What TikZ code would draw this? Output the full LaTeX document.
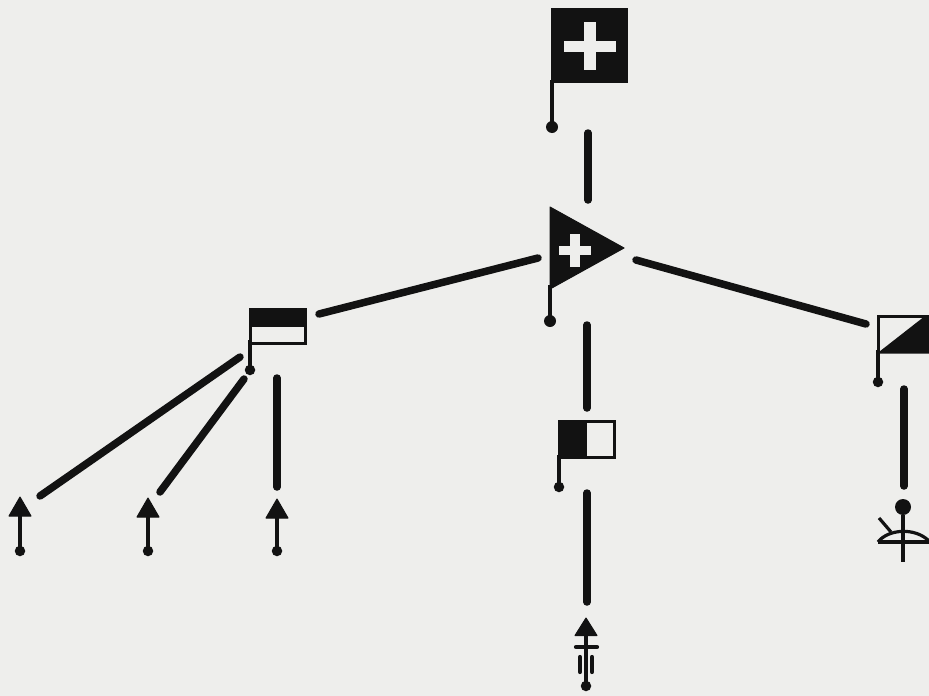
\documentclass[tikz,border=0pt]{standalone}
\definecolor{paper}{HTML}{EEEEEC}
\definecolor{ink}{HTML}{121212}
\tikzset{
  link/.style={draw=ink,line width=7.5pt,line cap=round},
  pole/.style={draw=ink,line width=3.2pt},
  dotmark/.style={circle,fill=ink,inner sep=0pt,minimum size=10.5pt},
  flagbody/.style={rectangle,draw=ink,line width=3pt,fill=paper,inner sep=0pt},
  crossbar/.style={rectangle,fill=paper,inner sep=0pt},
  tip/.style={fill=ink,draw=ink,line width=1pt,line join=round},
  stem/.style={draw=ink,line width=3.2pt},
  tick/.style={draw=ink,line width=4.2pt,line cap=round}
}
\begin{document}
\begin{tikzpicture}[x=1pt,y=-1pt]
\useasboundingbox (0,0) rectangle (929,696);
\fill[paper] (0,0) rectangle (929,696);

% top flag
\node[flagbody,fill=ink,minimum width=74pt,minimum height=72pt] (topflag) at (589,45) {};
\draw[pole] (552,80) -- (552,127);
\node[dotmark,minimum size=12pt] (topdot) at (552,127) {};
\node[crossbar,minimum width=52pt,minimum height=11pt] (tc1) at (590,46) {};
\node[crossbar,minimum width=12pt,minimum height=48pt] (tc2) at (590,46) {};

% triangular pennant
\fill[tip] (550,207) -- (624,248) -- (550,289) -- cycle;
\coordinate (penn) at (575,248);
\draw[pole] (550,285) -- (550,321);
\node[dotmark,minimum size=12pt] (penndot) at (550,321) {};
\node[crossbar,minimum width=32pt,minimum height=9pt] (pc1) at (575,250) {};
\node[crossbar,minimum width=10pt,minimum height=33pt] (pc2) at (575,250) {};

% left flag
\node[flagbody,minimum width=55pt,minimum height=34pt] (leftflag) at (277.5,326) {};
\fill[ink] (249,307.5) rectangle (306,326.5);
\draw[pole] (250,340) -- (250,370);
\node[dotmark] (leftdot) at (250,370) {};

% middle flag
\node[flagbody,minimum width=55pt,minimum height=36pt] (midflag) at (586.5,439) {};
\fill[ink] (558,419.5) rectangle (587,458);
\draw[pole] (559,455) -- (559,487);
\node[dotmark] (middot) at (559,487) {};

% right flag
\draw[ink,line width=3pt] (929,316) -- (878,316) -- (878,352);
\fill[ink] (877,353.5) -- (925,316) -- (929,316) -- (929,353.5) -- cycle;
\coordinate (rightflag) at (878,316);
\draw[pole] (878,350) -- (878,382);
\node[dotmark] (rightdot) at (878,382) {};

% arrow symbols, left group
\foreach \n/\x/\a in {a/20/497,b/148/498,c/277/499}{
  \fill[tip] (\x,\a) -- (\x+11,\a+19) -- (\x-11,\a+19) -- cycle;
  \draw[stem] (\x,\a+15) -- (\x,551);
  \node[dotmark] (\n dot) at (\x,551) {};
}

% bottom symbol
\fill[tip] (586,618) -- (597,635.5) -- (575,635.5) -- cycle;
\draw[stem] (586,630) -- (586,686);
\node[dotmark] (botdot) at (586,686) {};
\draw[tick] (576,647) -- (597,647);
\draw[tick] (580,657) -- (580,672);
\draw[tick] (592,657) -- (592,672);

% right symbol
\node[circle,fill=ink,inner sep=0pt,minimum size=16pt] (eye) at (903,507) {};
\draw[stem] (eye.south) -- (903,562);
\draw[ink,line width=3.2pt] (878,542) -- (929,542);
\draw[ink,line width=3.2pt] (878,542) .. controls (888,529) and (915,527) .. (929,541);
\draw[ink,line width=3.2pt] (879,518) -- (891,532);

% connectors
\coordinate (c1a) at (588,133); \coordinate (c1b) at (588,200);
\coordinate (c2a) at (587,325); \coordinate (c2b) at (587,408);
\coordinate (c3a) at (587,493); \coordinate (c3b) at (587,602);
\coordinate (c4a) at (538,258); \coordinate (c4b) at (319,314);
\coordinate (c5a) at (636,260); \coordinate (c5b) at (866,324);
\coordinate (c6a) at (904,389); \coordinate (c6b) at (904,486);
\coordinate (c7a) at (240,357); \coordinate (c7b) at (40,496);
\coordinate (c8a) at (244,379); \coordinate (c8b) at (160,492);
\coordinate (c9a) at (277,378); \coordinate (c9b) at (277,487);
\foreach \p/\q in {c1a/c1b,c2a/c2b,c3a/c3b,c4a/c4b,c5a/c5b,c6a/c6b,c7a/c7b,c8a/c8b,c9a/c9b}
  \draw[link] (\p) -- (\q);
\end{tikzpicture}
\end{document}
